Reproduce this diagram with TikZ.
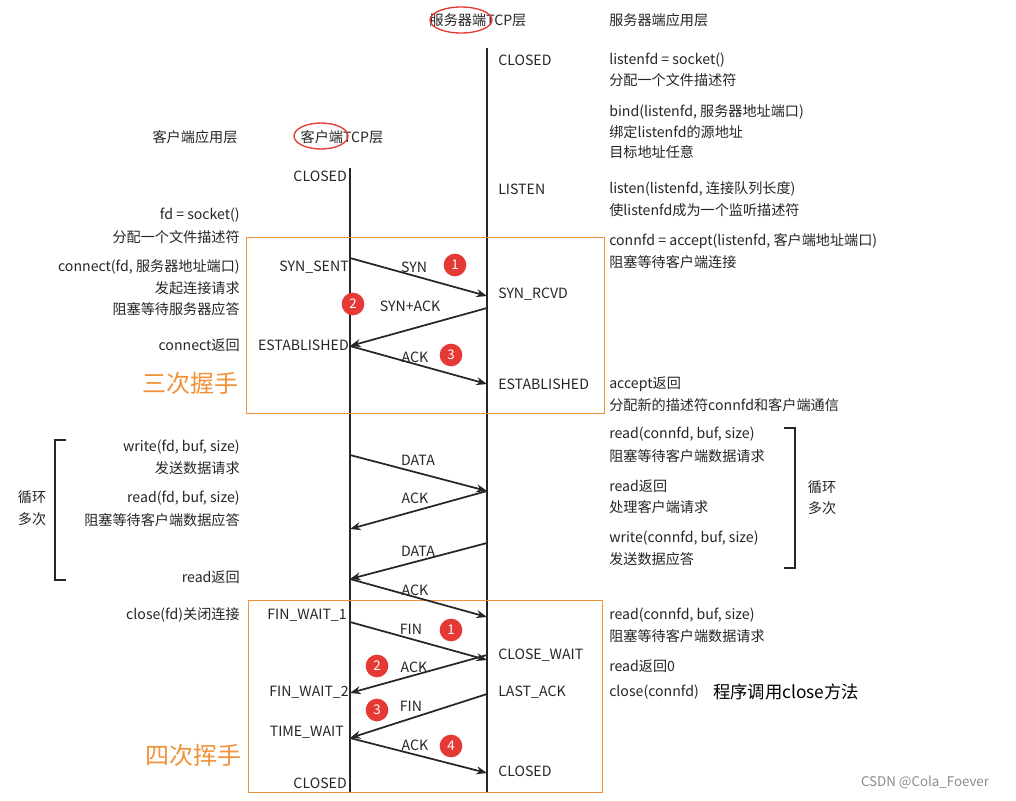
\documentclass[tikz,border=0pt]{standalone}
\usepackage{fontspec}
\setmainfont{Noto Sans CJK SC}
\usetikzlibrary{arrows.meta}
\definecolor{org}{HTML}{F0923A}
\definecolor{rd}{HTML}{E53935}
\begin{document}
\begin{tikzpicture}[x=0.75pt,y=-0.75pt,
  t/.style={inner sep=0pt,font=\fontsize{10.6}{12}\selectfont,text=black!85},
  tl/.style={t,anchor=west},tr/.style={t,anchor=east},
  life/.style={line width=1.6pt,black!85},
  msg/.style={line width=1.3pt,black!85,-{Stealth[length=8pt,width=6pt]}},
  num/.style={circle,fill=rd,text=white,inner sep=0pt,minimum size=17pt,font=\fontsize{10}{12}\selectfont},
  hand/.style={inner sep=0pt,text=org,font=\fontsize{18}{20}\selectfont},
  obox/.style={draw=org,line width=0.6pt},
  brk/.style={line width=1.2pt,black!85}]
\useasboundingbox (0,0) rectangle (1016,800);
\fill[white] (0,0) rectangle (1016,800);
% lifelines
\coordinate (c0) at (350,168); \coordinate (c1) at (350,792);
\coordinate (s0) at (487,48); \coordinate (s1) at (487,792);
\draw[life] (c0)--(c1); \draw[life] (s0)--(s1);
% boxes
\draw[obox] (246,237) rectangle (604,413);
\draw[obox] (248,600) rectangle (602,792);
% headers
\node[t] (sh) at (478,20) {服务器端TCP层};
\draw[rd,line width=1pt] (461,20) ellipse (31 and 13);
\node[tl] (sa) at (609,20) {服务器端应用层};
\node[t] (ca) at (195,137) {客户端应用层};
\node[t] (ch) at (342,137) {客户端TCP层};
\draw[rd,line width=1pt] (321,136) ellipse (27 and 13);
% server right texts
\node[tl] (sc) at (498,60) {CLOSED};
\node[tl] at (609,60) {listenfd = socket()};
\node[tl] at (609,80) {分配一个文件描述符};
\node[tl] at (609,112) {bind(listenfd, 服务器地址端口)};
\node[tl] at (609,132) {绑定listenfd的源地址};
\node[tl] at (609,152) {目标地址任意};
\node[tl] at (498,189) {LISTEN};
\node[tl] at (609,189) {listen(listenfd, 连接队列长度)};
\node[tl] at (609,210) {使listenfd成为一个监听描述符};
\begin{scope}
\clip (600,220) rectangle (886,255);
\node[tl] at (609,241) {connfd = accept(listenfd, 客户端地址端口)};
\end{scope}
\node[tl] at (609,262) {阻塞等待客户端连接};
\node[tl] at (498,294) {SYN\_RCVD};
\node[tl] at (498,384) {ESTABLISHED};
\node[tl] at (609,384) {accept返回};
\node[tl] at (609,405) {分配新的描述符connfd和客户端通信};
\node[tl] at (609,434) {read(connfd, buf, size)};
\node[tl] at (609,456) {阻塞等待客户端数据请求};
\node[tl] at (609,486) {read返回};
\node[tl] at (609,507) {处理客户端请求};
\node[tl] at (609,538) {write(connfd, buf, size)};
\node[tl] at (609,559) {发送数据应答};
\node[t] at (822,487) {循环};
\node[t] at (822,508) {多次};
\node[tl] at (609,615) {read(connfd, buf, size)};
\node[tl] at (609,636) {阻塞等待客户端数据请求};
\node[tl] at (498,655) {CLOSE\_WAIT};
\node[tl] at (609,666) {read返回0};
\node[tl] at (498,692) {LAST\_ACK};
\node[tl] at (609,692) {close(connfd)};
\node[inner sep=0pt,anchor=west,font=\fontsize{13}{15}\selectfont] at (713,692) {程序调用close方法};
\node[tl] at (498,771) {CLOSED};
% client left texts
\node[tr] at (347,176) {CLOSED};
\node[tr] at (240,215) {fd = socket()};
\node[tr] at (240,237) {分配一个文件描述符};
\node[tr] at (240,267) {connect(fd, 服务器地址端口)};
\node[tr] at (240,288) {发起连接请求};
\node[tr] at (240,309) {阻塞等待服务器应答};
\node[tr] at (349,267) {SYN\_SENT};
\node[tr] at (240,345) {connect返回};
\node[tr] at (349,345) {ESTABLISHED};
\node[hand] at (190,383) {三次握手};
\node[tr] at (240,447) {write(fd, buf, size)};
\node[tr] at (240,468) {发送数据请求};
\node[tr] at (240,498) {read(fd, buf, size)};
\node[tr] at (240,520) {阻塞等待客户端数据应答};
\node[tr] at (240,577) {read返回};
\node[t] at (32,497) {循环};
\node[t] at (32,519) {多次};
\node[tr] at (240,615) {close(fd)关闭连接};
\node[tr] at (347,615) {FIN\_WAIT\_1};
\node[tr] at (349,692) {FIN\_WAIT\_2};
\node[tr] at (344,732) {TIME\_WAIT};
\node[tr] at (347,783) {CLOSED};
\node[hand] at (193,755) {四次挥手};
% brackets
\draw[brk] (66,440) -- (55,440) -- (55,580) -- (66,580);
\draw[brk] (784,428) -- (795,428) -- (795,568) -- (784,568);
% messages
\coordinate (a1) at (350,258); \coordinate (b1) at (487,296);
\coordinate (a2) at (487,308); \coordinate (b2) at (350,346);
\coordinate (a3) at (350,346); \coordinate (b3) at (487,384);
\coordinate (a4) at (350,455); \coordinate (b4) at (487,491);
\coordinate (a5) at (487,491); \coordinate (b5) at (350,529);
\coordinate (a6) at (487,543); \coordinate (b6) at (350,579);
\coordinate (a7) at (350,579); \coordinate (b7) at (487,617);
\coordinate (a8) at (350,622); \coordinate (b8) at (487,660);
\coordinate (a9) at (487,655); \coordinate (b9) at (350,693);
\coordinate (a10) at (487,694); \coordinate (b10) at (350,738);
\coordinate (a11) at (350,738); \coordinate (b11) at (487,773);
\foreach \i in {1,...,11} \draw[msg] (a\i) -- (b\i);
\node[t] at (414,267) {SYN};
\node[t] at (410,306) {SYN+ACK};
\node[t] at (415,357) {ACK};
\node[t] at (418,460) {DATA};
\node[t] at (415,498) {ACK};
\node[t] at (418,551) {DATA};
\node[t] at (415,590) {ACK};
\node[t] at (411,629) {FIN};
\node[t] at (414,667) {ACK};
\node[t] at (411,706) {FIN};
\node[t] at (415,745) {ACK};
\node[num] at (455,265) {1};
\node[num] at (353,304) {2};
\node[num] at (451,355) {3};
\node[num] at (451,630) {1};
\node[num] at (377,666) {2};
\node[num] at (377,710) {3};
\node[num] at (451,746) {4};
\node[inner sep=0pt,text=black!45,font=\fontsize{10}{11}\selectfont] at (925,782) {CSDN @Cola\_Foever};
\end{tikzpicture}
\end{document}
